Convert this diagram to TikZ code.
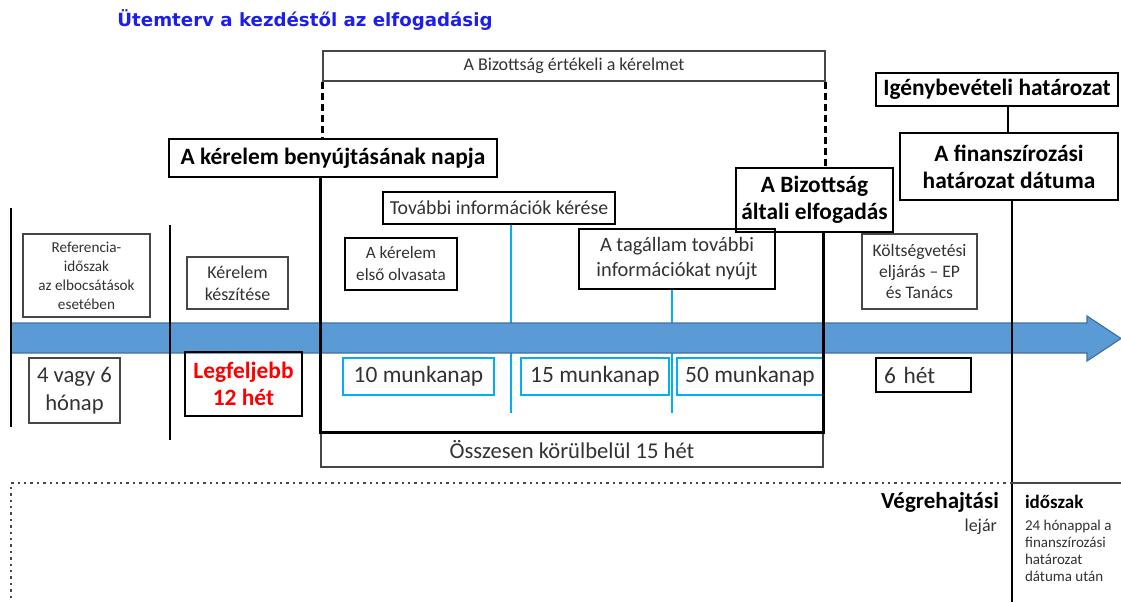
\documentclass[tikz,border=0pt]{standalone}
\usepackage{fontspec}
\setmainfont{Carlito}
\newfontfamily\titlefont{DejaVu Sans}
\definecolor{titleblue}{RGB}{30,30,235}
\definecolor{arrowfill}{RGB}{91,155,213}
\definecolor{arrowdraw}{RGB}{65,113,156}
\definecolor{cyanline}{RGB}{0,176,240}
\definecolor{boxgray}{RGB}{70,70,70}
\definecolor{textgray}{RGB}{50,50,50}
\newcommand{\fsz}[2]{\fontsize{#1}{#2}\selectfont}
\begin{document}
\begin{tikzpicture}[x=0.5pt,y=-0.5pt,
    box/.style={draw=boxgray,line width=0.8pt,inner sep=1pt,align=center,text=textgray},
    bbox/.style={draw=black,line width=0.9pt,inner sep=1pt,align=center,font=\bfseries\fsz{11.7}{13.5}},
    mbox/.style={draw=cyanline,line width=1.2pt,inner sep=1pt,font=\fsz{11.7}{13.5},text=textgray},
    bar/.style={line width=1.4pt},
    dashbar/.style={line width=1.5pt,dash pattern=on 3.5pt off 2pt},
    cline/.style={draw=cyanline,line width=1.3pt}]
  \useasboundingbox (0,0) rectangle (1121,601);
  \clip (0,0) rectangle (1121,601);
  \node[font=\titlefont\bfseries\fsz{9.1}{11},text=titleblue] (titel) at (305,20) {Ütemterv a kezdéstől az elfogadásig};
  \node[box,minimum width=251pt,minimum height=15pt,font=\fsz{9}{10}]      (ertek)    at ( 574.0,  66.0) {A Bizottság értékeli a kérelmet};
  \node[bbox,minimum width=164pt,minimum height=19pt]                       (napja)    at ( 333.0, 158.0) {A kérelem benyújtásának napja};
  \node[bbox,minimum width=121pt,minimum height=16.5pt]                     (igeny)    at ( 997.0,  89.5) {Igénybevételi határozat};
  \node[bbox,minimum width=109pt,minimum height=33.5pt]                     (finansz)  at (1009.0, 166.5) {A finanszírozási\\határozat dátuma};
  \node[bbox,minimum width=78.5pt,minimum height=32pt]                      (elfog)    at ( 814.5, 200.0) {A Bizottság\\általi elfogadás};
  \node[box,draw=black,minimum width=116pt,minimum height=16pt,font=\fsz{9.9}{11}]   (tovabbi) at (499.0, 208.0) {További információk kérése};
  \node[box,draw=black,minimum width=56pt,minimum height=26pt,font=\fsz{8.6}{11}]    (olvas)   at (401.0, 264.0) {A kérelem\\első olvasata};
  \node[box,draw=black,minimum width=98pt,minimum height=30pt,font=\fsz{10.2}{12.5}] (tagall)  at (677.0, 259.0) {A tagállam további\\információkat nyújt};
  \node[box,minimum width=57.5pt,minimum height=37.5pt,font=\fsz{8.8}{10.5}] (koltseg)  at ( 919.5, 271.5) {Költségvetési\\eljárás – EP\\és Tanács};
  \node[box,minimum width=63.5pt,minimum height=41.5pt,font=\fsz{7.6}{9.5}]  (referen)  at (  86.5, 275.5) {Referencia-\\időszak\\az elbocsátások\\esetében};
  \node[box,minimum width=50.5pt,minimum height=26pt,font=\fsz{9}{11}]       (kerelem)  at ( 237.5, 283.0) {Kérelem\\készítése};
  \coordinate (kek1) at (511,413);
  \coordinate (kek2) at (672,413);
  \draw[cline] (tovabbi.south -| kek1) -- (kek1);
  \draw[cline] (tagall.south -| kek2) -- (kek2);
  \path[fill=arrowfill,draw=arrowdraw,line width=0.6pt] (11,323) -- (1087,323) -- (1087,316) -- (1121,338.5) -- (1087,361) -- (1087,353) -- (11,353) -- cycle;
  \node[box,minimum width=45.5pt,minimum height=32.5pt,font=\fsz{11.3}{14}] (honap)    at (  74.5, 390.5) {4 vagy 6\\hónap};
  \node[bbox,minimum width=58.5pt,minimum height=32pt,text=red]             (legf)     at ( 243.5, 384.0) {Legfeljebb\\12 hét};
  \node[mbox,minimum width=75.5pt,minimum height=18.5pt]                    (mk10)     at ( 418.5, 376.5) {10 munkanap};
  \node[mbox,minimum width=74pt,minimum height=18.5pt]                      (mk15)     at ( 595.0, 376.5) {15 munkanap};
  \node[mbox,minimum width=73pt,minimum height=18.5pt]                      (mk50)     at ( 750.0, 376.5) {50 munkanap};
  \node[mbox,draw=black,minimum height=17pt,inner xsep=4pt,text width=39.5pt,align=left] (het6) at (923.5, 375.0) {6 hét};
  \node[box,minimum width=251pt,minimum height=17pt,font=\fsz{11.3}{13}]    (osszes)   at ( 572.0, 450.0) {Összesen körülbelül 15 hét};
  \draw[dashbar] (ertek.south west) -- (ertek.south west |- napja.north);
  \draw[dashbar] (ertek.south east) -- (ertek.south east |- elfog.north);
  \draw[bar] (napja.south -| osszes.north west) -- (osszes.north west) -- (osszes.north east) -- (elfog.south -| osszes.north east);
  \draw[bar] (igeny.south -| 1008,0) -- (finansz.north -| 1008,0);
  \coordinate (bal1) at (11,208);
  \coordinate (bal2) at (11,427);
  \coordinate (bal3) at (170,225);
  \coordinate (bal4) at (170,440);
  \coordinate (jobb) at (1012,610);
  \draw[bar] (bal1) -- (bal2);
  \draw[bar] (bal3) -- (bal4);
  \draw[bar] (finansz.south -| jobb) -- (jobb);
  \draw[boxgray,line width=1.2pt,dotted] (1012,483) -- (11,483) -- (11,610);
  \draw[boxgray,line width=1.2pt] (1012,483) -- (1121,483);
  \node[anchor=east,font=\bfseries\fsz{11.5}{13}]                   (vegre)    at (1006, 502) {Végrehajtási};
  \node[anchor=east,font=\fsz{9}{10},text=textgray]                 (lejar)    at (1004, 527) {lejár};
  \node[anchor=west,font=\bfseries\fsz{9.5}{11}]                    (idoszak)  at (1018, 502) {időszak};
  \node[anchor=north west,align=left,font=\fsz{7.5}{8.5},text=textgray] (honappal) at (1018, 513) {24 hónappal a\\finanszírozási\\határozat\\dátuma után};
\end{tikzpicture}
\end{document}
